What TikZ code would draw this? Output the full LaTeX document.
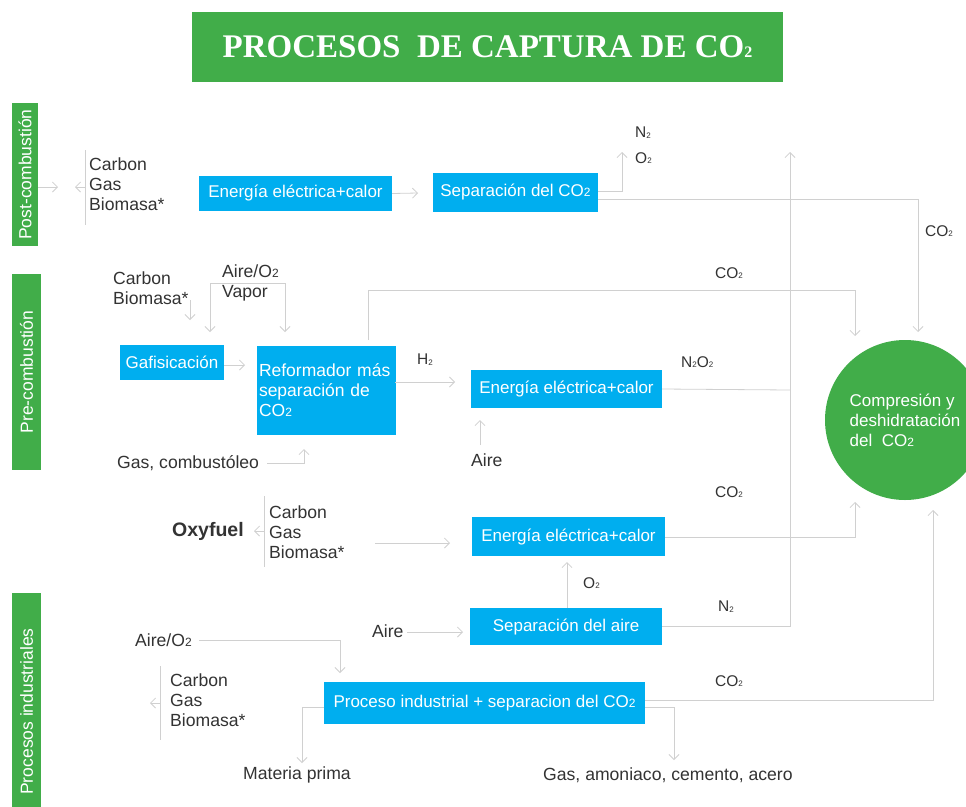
\documentclass[tikz,border=0pt]{standalone}
\usepackage{fontspec}
\setmainfont{Liberation Sans}
\newfontfamily\titlefont{Liberation Serif}
\usetikzlibrary{arrows.meta}
\definecolor{grn}{HTML}{41AD49}
\definecolor{blu}{HTML}{00AEEF}
\definecolor{lnc}{HTML}{D0D0D0}
\definecolor{txt}{HTML}{333333}
\newcommand\ssub{\raisebox{-0.1ex}{\fontsize{8}{8}\selectfont 2}}
\newcommand\bsub{{\fontsize{12}{12}\selectfont 2}}
\begin{document}
\begin{tikzpicture}[x=1pt,y=-1pt,
  bx/.style={fill=blu,text=white,inner sep=0pt,font=\fontsize{17}{20}\selectfont},
  lbl/.style={text=txt,inner sep=0pt,font=\fontsize{17.6}{20}\selectfont,anchor=west,align=left},
  sm/.style={text=txt,inner sep=0pt,font=\fontsize{15.5}{18}\selectfont,anchor=west},
  ar/.style={draw=lnc,line width=0.8pt,-{Straight Barb[length=5pt,width=10pt]}},
  lnn/.style={draw=lnc,line width=0.8pt},
  gbar/.style={fill=grn,text=white,inner sep=0pt,font=\fontsize{17.5}{20}\selectfont,rotate=90}]
\clip (0,0) rectangle (966,806);
\fill[white] (0,0) rectangle (966,806);

% title
\node[fill=grn,minimum width=591,minimum height=70,inner sep=0pt,text=white,
  font=\titlefont\bfseries\fontsize{33}{36}\selectfont] (title) at (487.5,47)
  {PROCESOS\ \ DE CAPTURA DE CO{\fontsize{16}{16}\selectfont 2}};

% side bars
\node[gbar,minimum width=143,minimum height=26] (post) at (25,174.5) {Post-combustión};
\node[gbar,minimum width=196,minimum height=29] (pre) at (26.5,372) {Pre-combustión};
\node[gbar,minimum width=237,minimum height=29] (ind) at (26.5,711.5) {Procesos industriales};

% ---------- Post-combustion ----------
\coordinate (postR) at (38,187);
\coordinate (postA) at (58,187);
\draw[ar] (postR) -- (postA);
\coordinate (pb1) at (85,150);
\coordinate (pb2) at (85,225);
\coordinate (pbm) at (85,187);
\coordinate (pba) at (75,187);
\draw[lnn] (pb1) -- (pb2);
\draw[ar] (pbm) -- (pba);
\node[lbl] (pfuel) at (89,184) {Carbon\\Gas\\Biomasa*};

\node[bx,minimum width=193,minimum height=35] (e1) at (295.5,193.5) {Energía eléctrica+calor};
\node[bx,minimum width=165,minimum height=39] (s1) at (515.5,192.5) {Separación del CO\bsub};
\coordinate (e1a) at (418,193);
\draw[ar] (e1.east) -- (e1a);

\coordinate (s1n) at (598,191);
\coordinate (n2up) at (622,152);
\draw[ar] (s1n) -| (n2up);
\node[sm] (lN2a) at (635,133) {N\ssub};
\node[sm] (lO2a) at (635,158) {O\ssub};

\coordinate (s1c) at (598,199);
\coordinate (cin1) at (918,332);
\draw[ar] (s1c) -| (cin1);
\node[sm] (lCO2a) at (925,231) {CO\ssub};

% ---------- Pre-combustion ----------
\node[lbl] (cb) at (113,288) {Carbon\\Biomasa*};
\coordinate (cb1) at (190,300);
\coordinate (cb2) at (190,320);
\draw[ar] (cb1) -- (cb2);
\node[lbl] (av) at (222,283) {Aire/O\bsub\\Vapor};
\coordinate (br1) at (210,332);
\coordinate (br2) at (210,283);
\coordinate (br3) at (285,283);
\coordinate (br4) at (285,332);
\draw[lnn,{Straight Barb[length=5pt,width=10pt]}-{Straight Barb[length=5pt,width=10pt]}] (br1) -- (br2) -- (br3) -- (br4);

\node[bx,minimum width=104,minimum height=35] (gaf) at (172,362.5) {Gafisicación};
\node[bx,minimum width=139,minimum height=89,text width=134,align=left,
  font=\fontsize{17.5}{20}\selectfont] (ref) at (326,390.5)
  {Reformador más\\separación de\\CO\bsub};
\coordinate (gafa) at (245,365);
\draw[ar] (gaf.east |- gafa) -- (gafa);

\coordinate (rt) at (368,340);
\coordinate (rtop) at (368,290);
\coordinate (cin2) at (855,336);
\draw[ar] (rt) -- (rtop) -| (cin2);
\node[sm] (lCO2b) at (715,273) {CO\ssub};

\node[bx,minimum width=191,minimum height=38] (e2) at (566.5,389) {Energía eléctrica+calor};
\node[sm] (lH2) at (417,360) {H\ssub};
\coordinate (refo) at (395,382);
\coordinate (h2a) at (455,382);
\draw[ar] (refo) -- (h2a);
\coordinate (e2r) at (790,390);
\draw[lnn] (e2.east) -- (e2r);
\node[sm] (lN2O2) at (681,362) {N\ssub O\ssub};
\node[lbl] (aire2) at (471,460) {Aire};
\coordinate (ai1) at (480,445);
\coordinate (ai2) at (480,420);
\draw[ar] (ai1) -- (ai2);
\node[lbl] (gc) at (117,463) {Gas, combustóleo};
\coordinate (gc1) at (267,463);
\coordinate (gc2) at (304,449);
\draw[ar] (gc1) -| (gc2);

% ---------- Oxyfuel ----------
\node[lbl,font=\bfseries\fontsize{19.5}{22}\selectfont] (oxy) at (172,531) {Oxyfuel};
\coordinate (ob1) at (264,496);
\coordinate (ob2) at (264,567);
\coordinate (obm) at (264,531);
\coordinate (oba) at (254,531);
\draw[lnn] (ob1) -- (ob2);
\draw[ar] (obm) -- (oba);
\node[lbl] (ofuel) at (269,532) {Carbon\\Gas\\Biomasa*};
\coordinate (of1) at (375,543);
\coordinate (of2) at (450,543);
\draw[ar] (of1) -- (of2);

\node[bx,minimum width=193,minimum height=39] (e3) at (568.5,536.5) {Energía eléctrica+calor};
\coordinate (e3r) at (665,537);
\coordinate (cin3) at (855,502);
\draw[ar] (e3r) -| (cin3);
\node[sm] (lCO2c) at (715,492) {CO\ssub};

\node[bx,minimum width=192,minimum height=37] (sa) at (566,626.5) {Separación del aire\hspace{10pt}};
\coordinate (sat) at (567,608);
\coordinate (o2a) at (567,562);
\draw[ar] (sat) -- (o2a);
\node[sm] (lO2b) at (583,583) {O\ssub};
\node[lbl] (aire3) at (372,631) {Aire};
\coordinate (ar1) at (407,632);
\coordinate (ar2) at (463,632);
\draw[ar] (ar1) -- (ar2);
\node[sm] (lN2b) at (718,607) {N\ssub};
\coordinate (n2up2) at (790,152);
\draw[ar] (sa.east) -| (n2up2);

% ---------- Industrial ----------
\node[lbl] (aio) at (135,640) {Aire/O\bsub};
\coordinate (aio1) at (199,640);
\coordinate (aio2) at (340,673);
\draw[ar] (aio1) -| (aio2);
\coordinate (ib1) at (160,666);
\coordinate (ib2) at (160,740);
\coordinate (ibm) at (160,703);
\coordinate (iba) at (150,703);
\draw[lnn] (ib1) -- (ib2);
\draw[ar] (ibm) -- (iba);
\node[lbl] (ifuel) at (170,700) {Carbon\\Gas\\Biomasa*};

\node[bx,minimum width=321,minimum height=42] (pi) at (484.5,703) {Proceso industrial + separacion del CO\bsub};
\coordinate (pil) at (324,707);
\coordinate (mp) at (302,763);
\draw[ar] (pil) -| (mp);
\node[lbl] (lmp) at (243,775) {Materia prima};
\coordinate (pir) at (645,707);
\coordinate (gp) at (674,760);
\draw[ar] (pir) -| (gp);
\node[lbl] (lgp) at (543,775) {Gas, amoniaco, cemento, acero};
\coordinate (pic) at (645,700);
\coordinate (cin4) at (933,510);
\draw[ar] (pic) -| (cin4);
\node[sm] (lCO2d) at (715,681) {CO\ssub};

% ---------- Compression ----------
\node[circle,fill=grn,minimum size=160,inner sep=0pt,text=white,align=left,
  font=\fontsize{17}{20}\selectfont] (comp) at (905,420)
  {Compresión y\\deshidratación\\del\ \ CO\bsub};
\end{tikzpicture}
\end{document}
